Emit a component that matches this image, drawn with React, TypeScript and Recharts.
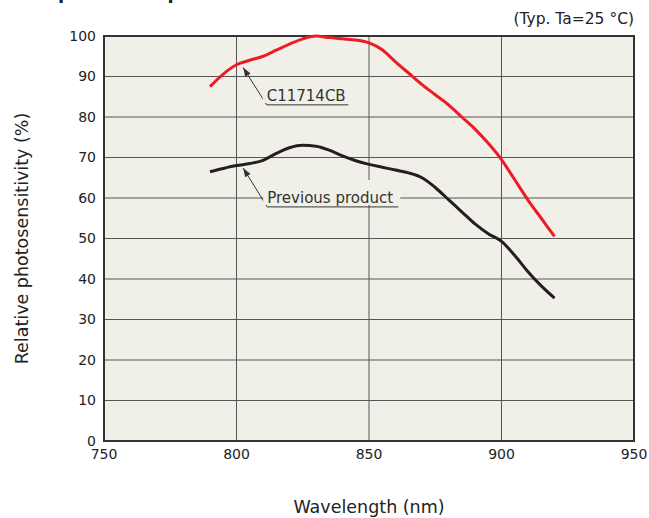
import {
  CartesianGrid,
  Line,
  LineChart,
  ReferenceArea,
  ReferenceLine,
  XAxis,
  YAxis,
} from "recharts";

// wavelength (nm), every 5 nm
const wavelengths = [
  790, 795, 800, 805, 810, 815, 820, 825, 830, 835, 840, 845, 850, 855, 860, 865, 870, 875, 880,
  885, 890, 895, 900, 905, 910, 915, 920,
];
const c11714cb = [
  87.5, 90.6, 92.9, 94.0, 95.0, 96.5, 98.0, 99.3, 100.0, 99.6, 99.3, 99.0, 98.3, 96.6, 93.6, 90.8,
  88.0, 85.5, 83.0, 80.0, 77.0, 73.5, 69.5, 64.5, 59.5, 55.0, 50.5,
];
const previousProduct = [
  66.5, 67.3, 68.0, 68.5, 69.3, 71.0, 72.4, 73.0, 72.8, 71.8, 70.4, 69.2, 68.3, 67.6, 66.9, 66.2,
  65.0, 62.6, 59.6, 56.6, 53.6, 51.2, 49.3, 45.8, 41.8, 38.3, 35.3,
];

const xTicks = [750, 800, 850, 900, 950];
const yTicks = [0, 10, 20, 30, 40, 50, 60, 70, 80, 90, 100];

const data = wavelengths.map((w, i) => ({ w, red: c11714cb[i], black: previousProduct[i] }));

const FONT = "'DejaVu Sans', Verdana, sans-serif";
const INK = "#333";

const ArrowShape = (p: any) => (
  <line x1={p.x1} y1={p.y1} x2={p.x2} y2={p.y2} stroke={INK} strokeWidth={1} markerStart="url(#arrowHead)" />
);
const PlainShape = (p: any) => (
  <line x1={p.x1} y1={p.y1} x2={p.x2} y2={p.y2} stroke={INK} strokeWidth={1} />
);

// text sitting on the underline, with a paper-coloured box behind it
const noteLabel = (text: string, boxW: number) => (props: any) => {
  const vb = props.viewBox || {};
  const x = vb.x ?? 0;
  const y = vb.y ?? 0;
  return (
    <g>
      <rect x={x - 4} y={y - 27} width={boxW} height={25} fill="#f1f0e8" />
      <text x={x} y={y - 4} fontSize={15} fill={INK} fontFamily={FONT}>
        {text}
      </text>
    </g>
  );
};

export default function App() {
  return (
    <div style={{ position: "absolute", left: 0, top: 0, width: 649, height: 518, fontFamily: FONT }}>
      <svg width={0} height={0} style={{ position: "absolute" }}>
        <defs>
          <marker
            id="arrowHead"
            viewBox="0 0 10 10"
            refX={10}
            refY={5}
            markerWidth={9}
            markerHeight={9}
            markerUnits="userSpaceOnUse"
            orient="auto-start-reverse"
          >
            <path d="M0,1.5 L10,5 L0,8.5 Z" fill={INK} />
          </marker>
        </defs>
      </svg>
      {/* heading cut off by the top edge */}
      <svg width={649} height={10} style={{ position: "absolute", left: 0, top: 0 }}>
        <text x={45} y={-1} fontSize={18} fontWeight="bold" fill="#222" fontFamily={FONT}>
          Spectral response
        </text>
      </svg>
      <LineChart
        width={649}
        height={518}
        data={data}
        margin={{ top: 36, right: 15, bottom: 0, left: 0 }}
      >
        <CartesianGrid stroke="#555" strokeWidth={1} fill="#f1f0e8" fillOpacity={1} />
        <XAxis
          dataKey="w"
          type="number"
          domain={[750, 950]}
          ticks={xTicks}
          height={77}
          tickLine={false}
          axisLine={false}
          tick={{ fill: "#222", fontSize: 14 }}
          label={{ value: "Wavelength (nm)", position: "insideBottom", offset: 5, fill: "#222", fontSize: 17.5 }}
        />
        <YAxis
          type="number"
          domain={[0, 100]}
          ticks={yTicks}
          width={104}
          tickLine={false}
          axisLine={false}
          tick={{ fill: "#222", fontSize: 14 }}
          label={{
            value: "Relative photosensitivity (%)",
            angle: -90,
            position: "insideLeft",
            offset: 22,
            fill: "#222",
            fontSize: 17.5,
            style: { textAnchor: "middle" },
          }}
        />
        <ReferenceArea x1={750} x2={950} y1={0} y2={100} fill="none" stroke="#333" strokeWidth={2} />

        <ReferenceLine
          segment={[{ x: 802.5, y: 92.2 }, { x: 811.4, y: 83 }]}
          shape={ArrowShape}
        />
        <ReferenceLine
          segment={[{ x: 811.4, y: 83 }, { x: 842.2, y: 83 }]}
          shape={PlainShape}
          label={noteLabel("C11714CB", 86)}
        />
        <ReferenceLine
          segment={[{ x: 802.5, y: 67.4 }, { x: 811.6, y: 57.8 }]}
          shape={ArrowShape}
        />
        <ReferenceLine
          segment={[{ x: 811.6, y: 57.8 }, { x: 861.1, y: 57.8 }]}
          shape={PlainShape}
          label={noteLabel("Previous product", 137)}
        />

        <Line
          dataKey="black"
          type="monotone"
          stroke="#231f20"
          strokeWidth={3}
          dot={false}
          isAnimationActive={false}
        />
        <Line
          dataKey="red"
          type="monotone"
          stroke="#ec1c24"
          strokeWidth={3}
          dot={false}
          isAnimationActive={false}
        />
      </LineChart>
      <div
        style={{
          position: "absolute",
          right: 15,
          top: 10,
          fontSize: 15.5,
          color: "#222",
          lineHeight: "18px",
          whiteSpace: "nowrap",
        }}
      >
        (Typ. Ta=25 °C)
      </div>
    </div>
  );
}
